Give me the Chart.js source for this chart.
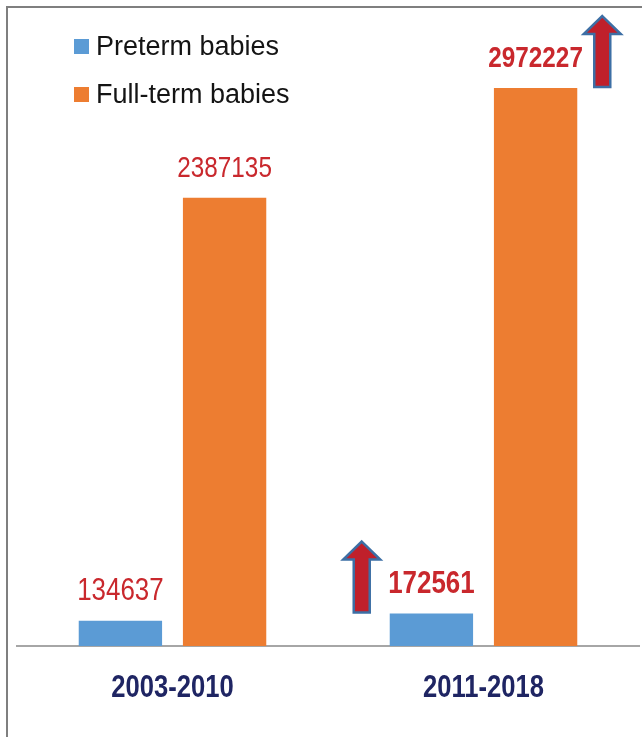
<!DOCTYPE html>
<html><head><meta charset="utf-8">
<script src="https://cdn.jsdelivr.net/npm/chart.js@4/dist/chart.umd.min.js"></script>
<style>html,body{margin:0;padding:0;background:#fff;overflow:hidden}#wrap{width:642px;height:737px;position:relative}</style>
</head><body><div id="wrap"><canvas id="c" width="642" height="737"></canvas></div>
<script>
// ---- data ----
const periods = ['2003-2010', '2011-2018'];
const seriesNames = ['Preterm babies', 'Full-term babies'];
const pretermBabies = [134637, 172561];
const fullTermBabies = [2387135, 2972227];
const yAxisMax = 3300000;

// ---- styles ----
const seriesColors = ['#5b9bd5', '#ed7d31'];
const labelSizes = [32, 30];
const SANS = "'Liberation Sans', Arial, sans-serif";
const NARROW_SCALE = 0.81;
const labelRed = '#c9282d';
const periodColor = '#1f2563';

// draw horizontally condensed text (Arial Narrow look)
function narrowText(ctx, text, x, y, font, color, sx) {
  ctx.save();
  ctx.translate(x, y);
  ctx.scale(sx, 1);
  ctx.font = font;
  ctx.fillStyle = color;
  ctx.textAlign = 'center';
  ctx.textBaseline = 'alphabetic';
  ctx.fillText(text, 0, 0);
  ctx.restore();
}

const framePlugin = {
  id: 'frame',
  beforeDraw(chart) {
    const ctx = chart.ctx;
    ctx.save();
    ctx.fillStyle = '#fff';
    ctx.fillRect(0, 0, chart.width, chart.height);
    ctx.strokeStyle = '#7f7f7f';
    ctx.lineWidth = 2;
    ctx.beginPath();
    ctx.moveTo(7, chart.height);
    ctx.lineTo(7, 7);
    ctx.lineTo(chart.width, 7);
    ctx.stroke();
    ctx.restore();
  }
};

const legendPlugin = {
  id: 'customLegend',
  afterDraw(chart) {
    const ctx = chart.ctx;
    ctx.save();
    chart.data.datasets.forEach((ds, i) => {
      const cy = 46.5 + i * 48;
      ctx.fillStyle = ds.backgroundColor;
      ctx.fillRect(74, cy - 7.5, 15, 15);
      ctx.fillStyle = '#141414';
      ctx.font = "27px " + SANS;
      ctx.textAlign = 'left';
      ctx.textBaseline = 'middle';
      ctx.fillText(ds.label, 96, cy + 1);
    });
    ctx.restore();
  }
};

const periodLabelPlugin = {
  id: 'periodLabels',
  afterDraw(chart) {
    const ctx = chart.ctx;
    const xs = chart.scales.x;
    chart.data.labels.forEach((lab, i) => {
      narrowText(ctx, lab, xs.getPixelForTick(i), chart.chartArea.bottom + 51,
        'bold 32px ' + SANS, periodColor, 0.80);
    });
  }
};

const valueLabelPlugin = {
  id: 'valueLabels',
  afterDatasetsDraw(chart) {
    const ctx = chart.ctx;
    const last = chart.data.labels.length - 1;
    chart.data.datasets.forEach((ds, di) => {
      const meta = chart.getDatasetMeta(di);
      meta.data.forEach((bar, idx) => {
        const bold = idx === last ? 'bold ' : '';
        narrowText(ctx, String(ds.data[idx]), bar.x, bar.y - 21,
          bold + labelSizes[di] + 'px ' + SANS, labelRed, NARROW_SCALE);
      });
    });
  }
};

function drawArrow(ctx, cx, bottom) {
  const h = 71, hh = 18, hw = 18.5, sw = 8;
  const top = bottom - h;
  ctx.beginPath();
  ctx.moveTo(cx, top);
  ctx.lineTo(cx + hw, top + hh);
  ctx.lineTo(cx + sw, top + hh);
  ctx.lineTo(cx + sw, bottom);
  ctx.lineTo(cx - sw, bottom);
  ctx.lineTo(cx - sw, top + hh);
  ctx.lineTo(cx - hw, top + hh);
  ctx.closePath();
  ctx.fillStyle = '#c0202b';
  ctx.fill();
  ctx.lineWidth = 2.5;
  ctx.strokeStyle = '#3d6fa5';
  ctx.stroke();
}

const arrowPlugin = {
  id: 'arrows',
  afterDatasetsDraw(chart) {
    const ctx = chart.ctx;
    ctx.save();
    chart.data.datasets.forEach((ds, di) => {
      const meta = chart.getDatasetMeta(di);
      for (let idx = 1; idx < ds.data.length; idx++) {
        if (ds.data[idx] > ds.data[idx - 1]) {
          const bar = meta.data[idx];
          const cx = di === 0 ? bar.x - bar.width / 2 - 28 : bar.x + bar.width / 2 + 25;
          drawArrow(ctx, cx, bar.y - 1);
        }
      }
    });
    ctx.restore();
  }
};

new Chart(document.getElementById('c'), {
  type: 'bar',
  data: {
    labels: periods,
    datasets: [
      { label: seriesNames[0], data: pretermBabies, backgroundColor: seriesColors[0], borderWidth: 0 },
      { label: seriesNames[1], data: fullTermBabies, backgroundColor: seriesColors[1], borderWidth: 0 }
    ]
  },
  options: {
    responsive: false,
    devicePixelRatio: 1,
    animation: false,
    categoryPercentage: 0.67,
    barPercentage: 0.8,
    layout: { padding: { top: 26.5, left: 17, right: 3, bottom: 0 } },
    plugins: { legend: { display: false }, tooltip: { enabled: false } },
    scales: {
      x: {
        grid: { display: false, drawTicks: false },
        border: { display: true, color: '#a6a6a6', width: 2 },
        ticks: { display: false },
        afterFit(scale) { scale.height = 91; }
      },
      y: { display: false, min: 0, max: yAxisMax }
    }
  },
  plugins: [framePlugin, valueLabelPlugin, arrowPlugin, periodLabelPlugin, legendPlugin]
});
</script>
</body></html>
